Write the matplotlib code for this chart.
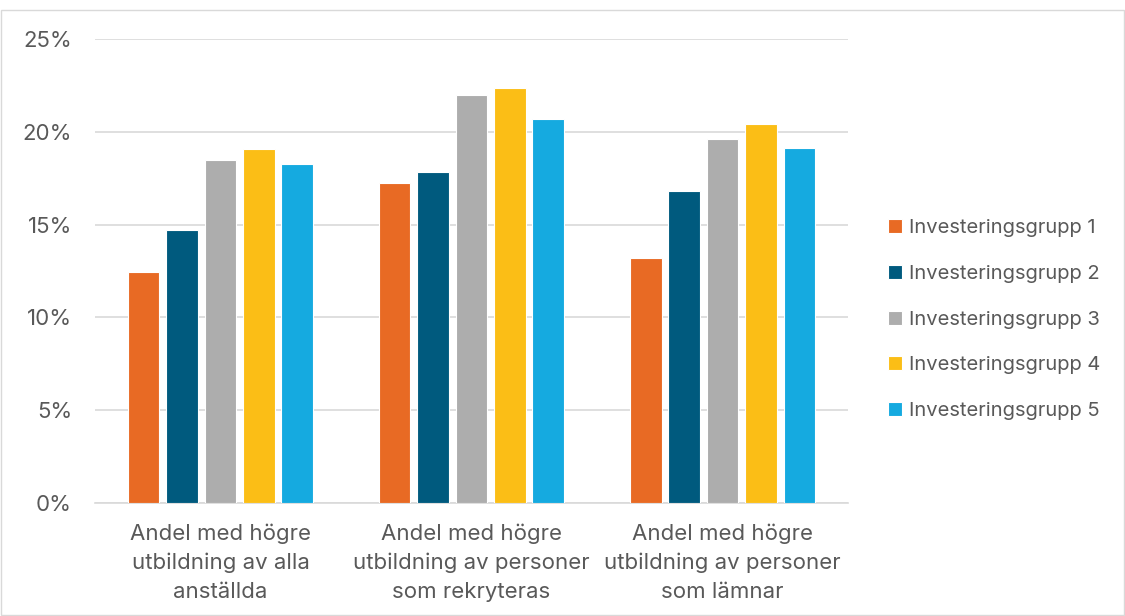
import numpy as np
import matplotlib.pyplot as plt
from matplotlib.ticker import PercentFormatter
from matplotlib.patches import Rectangle

plt.rcParams['font.family'] = ['Inter', 'DejaVu Sans']

categories = ["Andel med högre\nutbildning av alla\nanställda",
              "Andel med högre\nutbildning av personer\nsom rekryteras",
              "Andel med högre\nutbildning av personer\nsom lämnar"]
series = ["Investeringsgrupp 1", "Investeringsgrupp 2", "Investeringsgrupp 3",
          "Investeringsgrupp 4", "Investeringsgrupp 5"]
grupp1 = [12.45, 17.24, 13.2]
grupp2 = [14.7, 17.83, 16.81]
grupp3 = [18.5, 21.98, 19.61]
grupp4 = [19.07, 22.36, 20.42]
grupp5 = [18.27, 20.69, 19.13]
values = [grupp1, grupp2, grupp3, grupp4, grupp5]
colors = ["#E86A24", "#005A7E", "#ADADAD", "#FBBE16", "#15AAE0"]

txt = "#595959"
fig = plt.figure(figsize=(11.25, 6.16), dpi=100)
ax = fig.add_axes([0.0844, 0.1834, 0.6694, 0.7533])

x = np.arange(len(categories))
step = 0.153
width = 0.126
for i, (name, vals) in enumerate(zip(series, values)):
    ax.bar(x + (i - 2) * step, vals, width, color=colors[i], label=name,
           edgecolor="white", linewidth=0.8, zorder=3)

ax.set_xlim(-0.5, 2.5)
ax.set_ylim(0, 25)
ax.set_yticks(np.arange(0, 26, 5))
ax.yaxis.set_major_formatter(PercentFormatter(decimals=0))
ax.grid(axis="y", color="#D9D9D9", linewidth=1.2, zorder=0)
for s in ["top", "right", "left"]:
    ax.spines[s].set_visible(False)
ax.spines["bottom"].set_color("#D9D9D9")
ax.spines["bottom"].set_linewidth(1.2)
ax.set_xticks(x)
ax.set_xticklabels(categories, fontsize=16, color=txt, linespacing=1.52)
ax.tick_params(axis="x", length=0, pad=15)
ax.tick_params(axis="y", length=0, labelsize=16, labelcolor=txt, pad=16.5)

fig.legend(loc="center left", bbox_to_anchor=(0.773, 0.481), frameon=False,
           fontsize=14.5, labelcolor=txt, handlelength=0.7, handleheight=0.7,
           handletextpad=0.35, labelspacing=1.37)

fig.patches.append(Rectangle((0.001, 0.001), 0.998, 0.983, transform=fig.transFigure,
                             fill=False, edgecolor="#D9D9D9", linewidth=1))

fig.savefig("out.png", dpi=100)
